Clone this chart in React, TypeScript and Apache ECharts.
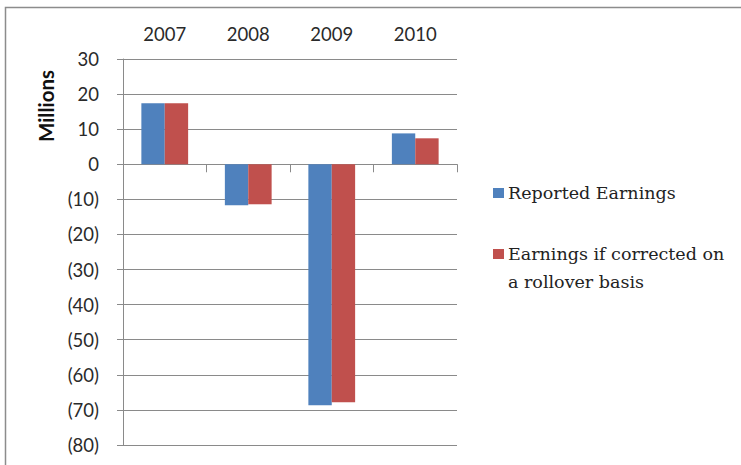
import React, { useEffect, useRef } from "react";
import * as echarts from "echarts";

const categories = ["2007", "2008", "2009", "2010"];
const reportedEarnings = [17.4, -11.7, -68.7, 8.8];
const correctedEarnings = [17.4, -11.4, -67.8, 7.4];
const seriesNames = ["Reported Earnings", "Earnings if corrected on\na rollover basis"];
const seriesColors = ["#4F81BD", "#C0504D"];
const yMin = -80;
const yMax = 30;
const yInterval = 10;

export default function App() {
  const ref = useRef<HTMLDivElement>(null);
  useEffect(() => {
    if (!ref.current) return;
    const chart = echarts.init(ref.current, undefined, { renderer: "svg" });
    const axisFont = { fontFamily: "Lato", fontSize: 18.5, color: "#2a2a2a" };
    const grey = "#8a8a8a";
    chart.setOption({
      animation: false,
      backgroundColor: "#ffffff",
      grid: { left: 123, top: 59, width: 334, height: 386, containLabel: false },
      xAxis: [
        {
          type: "category",
          data: categories,
          position: "top",
          axisLine: { show: false, onZero: false },
          axisTick: { show: false },
          axisLabel: { ...axisFont, margin: 16 },
          splitLine: { show: false },
        },
        {
          type: "category",
          data: categories,
          position: "bottom",
          axisLine: { show: true, onZero: true, lineStyle: { color: grey, width: 1 } },
          axisTick: { show: true, length: 8, lineStyle: { color: grey } },
          axisLabel: { show: false },
          splitLine: { show: false },
        },
      ],
      yAxis: {
        type: "value",
        min: yMin,
        max: yMax,
        interval: yInterval,
        axisLine: { show: true, lineStyle: { color: grey } },
        axisTick: { show: true, length: 6, lineStyle: { color: grey } },
        axisLabel: {
          ...axisFont,
          margin: 24,
          formatter: (v: number) => (v < 0 ? `(${-v})` : `${v}`),
        },
        splitLine: { show: true, lineStyle: { color: grey, width: 1 } },
      },
      series: [
        {
          name: seriesNames[0],
          type: "bar",
          xAxisIndex: 0,
          data: reportedEarnings,
          itemStyle: { color: seriesColors[0] },
          barGap: "0%",
          barCategoryGap: "44%",
        },
        {
          name: seriesNames[1],
          type: "bar",
          xAxisIndex: 0,
          data: correctedEarnings,
          itemStyle: { color: seriesColors[1] },
          barGap: "0%",
          barCategoryGap: "44%",
        },
      ],
      graphic: [
        {
          type: "rect",
          shape: { x: 5.5, y: 7.5, width: 900, height: 700 },
          style: { fill: "none", stroke: "#8c8c8c", lineWidth: 1.5 },
          silent: true,
        },
        {
          type: "text",
          x: 46,
          y: 106,
          rotation: Math.PI / 2,
          style: {
            text: "Millions",
            fontFamily: "Lato",
            fontWeight: "bold",
            fontSize: 20.5,
            fill: "#111",
            align: "center",
            verticalAlign: "middle",
          },
        },
        {
          type: "rect",
          shape: { x: 493, y: 188, width: 11, height: 10 },
          style: { fill: seriesColors[0] },
        },
        {
          type: "text",
          x: 508,
          y: 193,
          style: {
            text: seriesNames[0],
            fontFamily: "DejaVu Serif",
            fontSize: 17.5,
            fill: "#222",
            verticalAlign: "middle",
          },
        },
        {
          type: "rect",
          shape: { x: 493, y: 249, width: 11, height: 10 },
          style: { fill: seriesColors[1] },
        },
        {
          type: "text",
          x: 508,
          y: 240,
          style: {
            text: seriesNames[1],
            fontFamily: "DejaVu Serif",
            fontSize: 17.5,
            lineHeight: 28,
            fill: "#222",
            verticalAlign: "top",
          },
        },
      ],
    });
    return () => chart.dispose();
  }, []);
  return (
    <div
      ref={ref}
      style={{ position: "fixed", left: 0, top: 0, width: 741, height: 465, background: "#fff" }}
    />
  );
}
